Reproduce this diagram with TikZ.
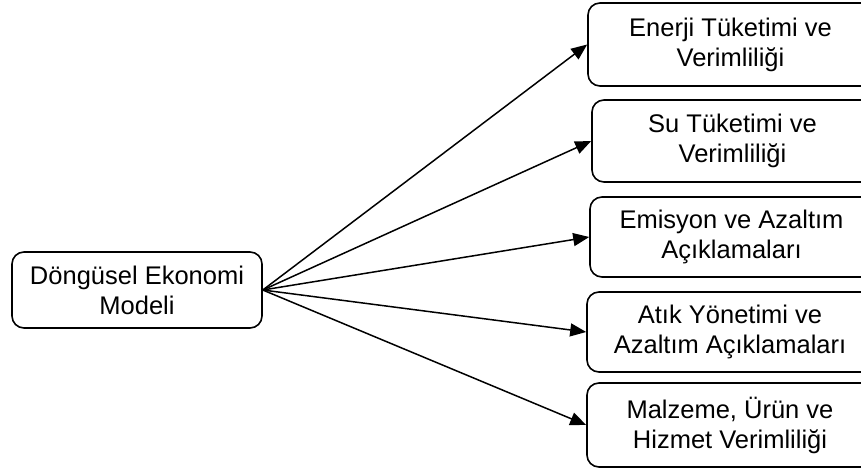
\documentclass[tikz,border=0pt]{standalone}
\usepackage{fontspec}
\setmainfont{Liberation Sans}
\usetikzlibrary{arrows.meta}
\begin{document}
\begin{tikzpicture}[
    x=1pt, y=-1pt,
    box/.style={draw, rounded corners=12pt, line width=1.6pt, align=center, inner sep=0pt,
      font=\fontsize{25.5}{30}\selectfont},
    arr/.style={line width=1.5pt, -{Triangle[length=16pt, width=13pt]}},
  ]
    \useasboundingbox (0,0) rectangle (861,468);

    % model
    \node[box, minimum width=250pt, minimum height=76pt] (model) at (137,290) {Döngüsel Ekonomi\\Modeli};

    % topics
    \foreach \n/\cx/\cy/\w/\h/\txt in {
        enerji/730.5/44.5/285/83/{Enerji Tüketimi ve\\Verimliliği},
        su/732.5/141/281/82/{Su Tüketimi ve\\Verimliliği},
        emisyon/731.5/237/283/80/{Emisyon ve Azaltım\\Açıklamaları},
        atik/730/332/286/80/{Atık Yönetimi ve\\Azaltım Açıklamaları},
        malzeme/730/425/286/84/{Malzeme, Ürün ve\\Hizmet Verimliliği}} {
      \node[box, minimum width=\w pt, minimum height=\h pt] (\n) at (\cx,\cy) {\txt};
      \draw[arr] (model.east) -- (\n.west);
    }
  \end{tikzpicture}
\end{document}
